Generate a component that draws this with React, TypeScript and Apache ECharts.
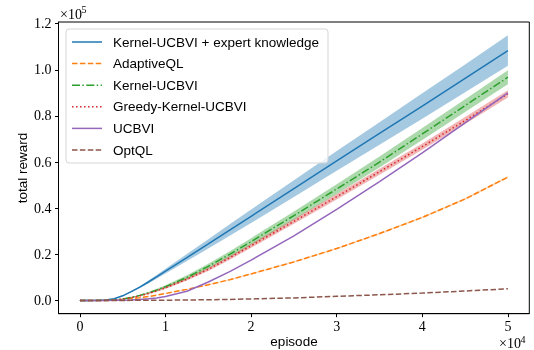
import React, { useEffect, useRef } from "react";
import * as echarts from "echarts";

// x: episodes; y values in units of 1e5 total reward
const episodes = [0, 1000, 2000, 3000, 4000, 5000, 6000, 7000, 8000, 9000, 10000, 12500, 15000, 17500, 20000, 25000, 30000, 35000, 40000, 45000, 50000];

const kernelExpert = [0, 0, 0.0005, 0.002, 0.007, 0.02, 0.038, 0.058, 0.08, 0.103, 0.127, 0.186, 0.245, 0.305, 0.365, 0.485, 0.605, 0.724, 0.843, 0.963, 1.0835];
const kernelExpertBand = [0, 0, 0, 0.0005, 0.001, 0.002, 0.003, 0.004, 0.006, 0.008, 0.01, 0.015, 0.02, 0.025, 0.029, 0.036, 0.043, 0.049, 0.055, 0.06, 0.066];

const adaptiveQL = [0, 0, 0, 0.0002, 0.001, 0.004, 0.008, 0.012, 0.017, 0.023, 0.03, 0.048, 0.068, 0.09, 0.115, 0.167, 0.225, 0.29, 0.36, 0.44, 0.535];
const adaptiveQLBand = [0, 0, 0, 0, 0, 0, 0, 0.0005, 0.0005, 0.001, 0.001, 0.0015, 0.002, 0.002, 0.0025, 0.003, 0.003, 0.0035, 0.004, 0.0045, 0.005];

const kernelUCBVI = [0, 0, 0, 0.0005, 0.002, 0.006, 0.013, 0.022, 0.033, 0.046, 0.06, 0.1, 0.148, 0.2, 0.255, 0.368, 0.483, 0.6, 0.722, 0.845, 0.968];
const kernelUCBVIBand = [0, 0, 0, 0, 0.0005, 0.001, 0.002, 0.003, 0.004, 0.005, 0.006, 0.009, 0.011, 0.013, 0.015, 0.018, 0.021, 0.024, 0.026, 0.028, 0.03];

const greedyKernel = [0, 0, 0, 0.0005, 0.002, 0.006, 0.012, 0.02, 0.03, 0.042, 0.055, 0.092, 0.135, 0.185, 0.237, 0.343, 0.45, 0.558, 0.667, 0.78, 0.896];
const greedyKernelBand = [0, 0, 0, 0, 0.0005, 0.001, 0.002, 0.002, 0.003, 0.004, 0.005, 0.006, 0.007, 0.008, 0.009, 0.01, 0.012, 0.013, 0.014, 0.015, 0.016];

const ucbvi = [0, 0, 0, 0, 0.0003, 0.001, 0.002, 0.004, 0.007, 0.011, 0.017, 0.04, 0.08, 0.125, 0.175, 0.28, 0.395, 0.515, 0.64, 0.77, 0.9];

const optQL = [0, 0, 0, 0, 0, 0.0002, 0.0003, 0.0005, 0.0007, 0.0009, 0.001, 0.002, 0.003, 0.0045, 0.0065, 0.011, 0.018, 0.0245, 0.032, 0.041, 0.0506];

const xTicks = [0, 10000, 20000, 30000, 40000, 50000];
const yTicks = [0, 0.2, 0.4, 0.6, 0.8, 1.0, 1.2];

const legendNames = ["Kernel-UCBVI + expert knowledge", "AdaptiveQL", "Kernel-UCBVI", "Greedy-Kernel-UCBVI", "UCBVI", "OptQL"];

const C = {
  blue: "#1f77b4",
  orange: "#ff7f0e",
  green: "#2ca02c",
  red: "#d62728",
  purple: "#9467bd",
  brown: "#8c564b",
};

const DASH = [5.5, 2.4];
const DASHDOT = [8, 2.4, 1.5, 2.4];
const DOT = [1.5, 2.5];

const SERIF = '"Liberation Serif", "DejaVu Serif", serif';
const SANS = '"Liberation Sans", "DejaVu Sans", sans-serif';

function pts(arr: number[]) {
  return episodes.map((x, i) => [x, arr[i]]);
}

function bandSeries(center: number[], half: number[], color: string) {
  const lower = center.map((v, i) => v - half[i]);
  const upper = center.map((v, i) => v + half[i]);
  const data = episodes.map((x, i) => [x, lower[i], upper[i]]);
  return {
    type: "custom",
    data,
    encode: { x: 0, y: [1, 2] },
    silent: true,
    z: 1,
    renderItem: (params: any, api: any) => {
      if (params.dataIndex !== 0) return null;
      const top = data.map((d) => api.coord([d[0], d[2]]));
      const bottom = data.map((d) => api.coord([d[0], d[1]])).reverse();
      return {
        type: "polygon",
        shape: { points: top.concat(bottom) },
        style: { fill: color, stroke: "none" },
      };
    },
  };
}

function lineSeries(name: string, arr: number[], color: string, dash: any) {
  return {
    name,
    type: "line",
    data: pts(arr),
    symbol: "none",
    lineStyle: { color, width: 1.5, type: dash },
    z: 3,
  };
}

export default function App() {
  const ref = useRef<HTMLDivElement>(null);
  useEffect(() => {
    const chart = echarts.init(ref.current!, null, { renderer: "svg" });

    const legendX = 66;
    const legendY = 29;
    const rowY0 = 42;
    const rowStep = 21.6;
    const legendStyles = [
      { color: C.blue, dash: null },
      { color: C.orange, dash: DASH },
      { color: C.green, dash: DASHDOT },
      { color: C.red, dash: DOT },
      { color: C.purple, dash: null },
      { color: C.brown, dash: DASH },
    ];

    const legendEls: any[] = [
      {
        type: "rect",
        shape: { x: legendX, y: legendY, width: 262, height: 134, r: 3 },
        style: { fill: "rgba(255,255,255,0.8)", stroke: "#d5d5d5", lineWidth: 1 },
        z: 10,
      },
    ];
    legendNames.forEach((name, i) => {
      const cy = rowY0 + i * rowStep;
      const s = legendStyles[i];
      legendEls.push({
        type: "line",
        shape: { x1: 72, y1: cy, x2: 102, y2: cy },
        style: { stroke: s.color, lineWidth: 1.5, lineDash: s.dash || undefined },
        z: 11,
      });
      legendEls.push({
        type: "text",
        x: 113,
        y: cy,
        style: { text: name, fontFamily: SANS, fontSize: 13.5, fill: "#000", verticalAlign: "middle", align: "left" },
        z: 11,
      });
    });

    const option: any = {
      animation: false,
      grid: {
        left: 58.5,
        right: 4.7,
        top: 22,
        bottom: 36.3,
        show: true,
        borderColor: "#000",
        borderWidth: 1,
        backgroundColor: "transparent",
      },
      xAxis: {
        type: "value",
        min: -2500,
        max: 52500,
        axisLine: { show: true, onZero: false, lineStyle: { color: "#000", width: 1 } },
        axisTick: { show: true, inside: false, length: 3.5, lineStyle: { color: "#000", width: 1 }, customValues: xTicks },
        axisLabel: {
          customValues: xTicks,
          formatter: (v: number) => String(Math.round(v / 10000)),
          fontFamily: SERIF,
          fontSize: 14,
          color: "#000",
          margin: 6,
        },
        splitLine: { show: false },
      },
      yAxis: {
        type: "value",
        min: -0.0575,
        max: 1.2075,
        axisLine: { show: true, onZero: false, lineStyle: { color: "#000", width: 1 } },
        axisTick: { show: true, inside: false, length: 3.5, lineStyle: { color: "#000", width: 1 }, customValues: yTicks },
        axisLabel: {
          customValues: yTicks,
          formatter: (v: number) => v.toFixed(1),
          fontFamily: SERIF,
          fontSize: 14,
          color: "#000",
          margin: 7,
        },
        splitLine: { show: false },
      },
      series: [
        bandSeries(kernelExpert, kernelExpertBand, "rgba(31,119,180,0.4)"),
        bandSeries(adaptiveQL, adaptiveQLBand, "rgba(255,127,14,0.3)"),
        bandSeries(kernelUCBVI, kernelUCBVIBand, "rgba(44,160,44,0.4)"),
        bandSeries(greedyKernel, greedyKernelBand, "rgba(214,39,40,0.35)"),
        lineSeries(legendNames[0], kernelExpert, C.blue, "solid"),
        lineSeries(legendNames[1], adaptiveQL, C.orange, DASH),
        lineSeries(legendNames[2], kernelUCBVI, C.green, DASHDOT),
        lineSeries(legendNames[3], greedyKernel, C.red, DOT),
        lineSeries(legendNames[4], ucbvi, C.purple, "solid"),
        lineSeries(legendNames[5], optQL, C.brown, DASH),
      ],
      graphic: [
        ...legendEls,
        {
          type: "text",
          x: 60,
          y: 14,
          style: { text: "×10", fontFamily: SERIF, fontSize: 14, fill: "#000", verticalAlign: "middle" },
        },
        {
          type: "text",
          x: 81.5,
          y: 9.5,
          style: { text: "5", fontFamily: SERIF, fontSize: 10, fill: "#000", verticalAlign: "middle" },
        },
        {
          type: "text",
          x: 499,
          y: 343.5,
          style: { text: "×10", fontFamily: SERIF, fontSize: 14, fill: "#000", verticalAlign: "middle" },
        },
        {
          type: "text",
          x: 520.5,
          y: 339,
          style: { text: "4", fontFamily: SERIF, fontSize: 10, fill: "#000", verticalAlign: "middle" },
        },
        {
          type: "text",
          x: 294,
          y: 341,
          style: { text: "episode", fontFamily: SANS, fontSize: 13.5, fill: "#000", align: "center", verticalAlign: "middle" },
        },
        {
          type: "text",
          x: 22,
          y: 168,
          rotation: Math.PI / 2,
          style: { text: "total reward", fontFamily: SANS, fontSize: 13.5, fill: "#000", align: "center", verticalAlign: "middle" },
        },
      ],
    };

    chart.setOption(option);
    return () => chart.dispose();
  }, []);

  return <div ref={ref} style={{ position: "fixed", left: 0, top: 0, width: 534, height: 350 }} />;
}
